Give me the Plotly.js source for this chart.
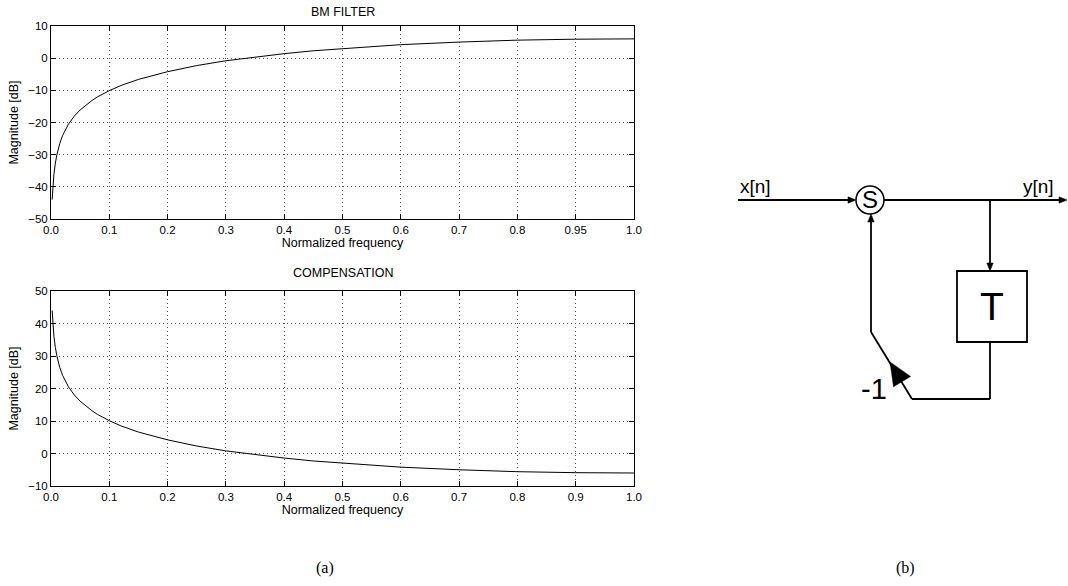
<!DOCTYPE html>
<html><head><meta charset="utf-8">
<script src="https://cdn.plot.ly/plotly-3.0.1.min.js"></script>
<style>html,body{margin:0;padding:0;background:#fff}#chart{width:1068px;height:586px}</style>
</head><body><div id="chart"></div>
<script>
// ---- data ----
const freq = [0.002, 0.003, 0.005, 0.0075, 0.01, 0.015, 0.02, 0.03, 0.04, 0.05, 0.06, 0.07, 0.08, 0.1, 0.12, 0.15, 0.2, 0.25, 0.3, 0.35, 0.4, 0.45, 0.5, 0.6, 0.7, 0.8, 0.9, 1.0];
const bmFilterDb = [-44, -40.5, -36.1, -32.6, -30.1, -26.5, -24.0, -20.5, -18.0, -16.1, -14.5, -13.2, -12.0, -10.1, -8.5, -6.6, -4.2, -2.3, -0.8, 0.4, 1.4, 2.3, 3.0, 4.2, 5.0, 5.6, 5.9, 6.0];
const compensationDb = [44, 40.5, 36.1, 32.6, 30.1, 26.5, 24.0, 20.5, 18.0, 16.1, 14.5, 13.2, 12.0, 10.1, 8.5, 6.6, 4.2, 2.3, 0.8, -0.4, -1.4, -2.3, -3.0, -4.2, -5.0, -5.6, -5.9, -6.0];
const xTickVals = [0, 0.1, 0.2, 0.3, 0.4, 0.5, 0.6, 0.7, 0.8, 0.9, 1.0];
const bmXTickText = ['0.0', '0.1', '0.2', '0.3', '0.4', '0.5', '0.6', '0.7', '0.8', '0.95', '1.0'];
const compXTickText = ['0.0', '0.1', '0.2', '0.3', '0.4', '0.5', '0.6', '0.7', '0.8', '0.9', '1.0'];
const bmYTicks = [-50, -40, -30, -20, -10, 0, 10];
const compYTicks = [-10, 0, 10, 20, 30, 40, 50];
const titles = ['BM FILTER', 'COMPENSATION'];
const xTitle = 'Normalized frequency';
const yTitle = 'Magnitude [dB]';
const panelLabels = ['(a)', '(b)'];
const diagramLabels = {input: 'x[n]', output: 'y[n]', sum: 'S', delay: 'T', gain: '-1'};

// ---- layout helpers ----
const W = 1068, H = 586;
const px = v => v / W;
const py = v => 1 - v / H;
const SANS = 'Liberation Sans, Arial, sans-serif';
const SERIF = 'Liberation Serif, DejaVu Serif, serif';

function xAxis(domain, anchor, ticktext) {
  return {
    domain: domain, anchor: anchor, range: [0, 1],
    tickmode: 'array', tickvals: xTickVals, ticktext: ticktext,
    ticks: 'inside', ticklen: 5, tickcolor: '#000', tickwidth: 1,
    showline: true, linecolor: '#000', linewidth: 1, mirror: 'ticks',
    showgrid: true, gridcolor: '#555', griddash: '1px,3px', gridwidth: 1,
    zeroline: false, tickfont: {family: SANS, size: 11.5, color: '#000'},
    title: {text: xTitle, font: {family: SANS, size: 12.5, color: '#000'}, standoff: 2}
  };
}
function yAxis(domain, anchor, ticks) {
  return {
    domain: domain, anchor: anchor, range: [ticks[0], ticks[ticks.length - 1]],
    tickmode: 'array', tickvals: ticks,
    ticks: 'inside', ticklen: 5, tickcolor: '#000', tickwidth: 1,
    showline: true, linecolor: '#000', linewidth: 1, mirror: 'ticks',
    showgrid: true, gridcolor: '#555', griddash: '1px,3px', gridwidth: 1,
    zeroline: false, tickfont: {family: SANS, size: 11.5, color: '#000'},
    title: {text: yTitle, font: {family: SANS, size: 12.5, color: '#000'}, standoff: 6}
  };
}

const traces = [
  {x: freq, y: bmFilterDb, xaxis: 'x', yaxis: 'y', type: 'scatter', mode: 'lines',
   line: {color: '#000', width: 1}, hoverinfo: 'skip', showlegend: false},
  {x: freq, y: compensationDb, xaxis: 'x2', yaxis: 'y2', type: 'scatter', mode: 'lines',
   line: {color: '#000', width: 1}, hoverinfo: 'skip', showlegend: false}
];

// ---- block diagram (b) ----
const LW = 1.8;
const line = (x0, y0, x1, y1) => ({type: 'line', xref: 'paper', yref: 'paper',
  x0: px(x0), y0: py(y0), x1: px(x1), y1: py(y1), line: {color: '#000', width: LW}});
const poly = pts => ({type: 'path', xref: 'paper', yref: 'paper',
  path: 'M ' + pts.map(p => px(p[0]) + ',' + py(p[1])).join(' L ') + ' Z',
  fillcolor: '#000', line: {color: '#000', width: 0.5}});
// arrowhead with tip (tx,ty) and direction (dx,dy)
function head(tx, ty, dx, dy, len, half) {
  const n = Math.hypot(dx, dy); const ux = dx / n, uy = dy / n;
  const bx = tx - ux * len, by = ty - uy * len;
  return poly([[tx, ty], [bx - uy * half, by + ux * half], [bx + uy * half, by - ux * half]]);
}
const shapes = [
  line(738, 200, 852, 200), head(856, 200, 1, 0, 8, 3.2),
  {type: 'circle', xref: 'paper', yref: 'paper', x0: px(856), x1: px(884), y0: py(214), y1: py(186),
   line: {color: '#000', width: 1.5}},
  line(884, 200, 1062, 200), head(1067, 200, 1, 0, 8, 3.2),
  line(990, 200, 990, 266), head(990, 271, 0, 1, 8, 3.2),
  {type: 'rect', xref: 'paper', yref: 'paper', x0: px(957), x1: px(1027), y0: py(342), y1: py(271),
   line: {color: '#000', width: LW}},
  line(990, 342, 990, 399), line(990, 399, 912, 399), line(912, 399, 871, 332),
  line(871, 332, 871, 219), head(871, 214, 0, -1, 8, 3.2),
  head(890, 362, -41, -67, 23, 10)
];

const ann = (text, x, y, family, size) => ({text: text, x: px(x), y: py(y), xref: 'paper', yref: 'paper',
  showarrow: false, xanchor: 'center', yanchor: 'middle', font: {family: family, size: size, color: '#000'}});
const annotations = [
  ann(titles[0], 342.5, 12, SANS, 12.5),
  ann(titles[1], 342.5, 273, SANS, 12.5),
  ann(panelLabels[0], 325, 568, SERIF, 16),
  ann(panelLabels[1], 905, 568, SERIF, 16),
  ann(diagramLabels.input, 755, 187, SANS, 19),
  ann(diagramLabels.output, 1038, 187, SANS, 19),
  ann(diagramLabels.sum, 870, 200, SANS, 24),
  ann(diagramLabels.delay, 992, 306, SANS, 39),
  ann(diagramLabels.gain, 874, 389, SANS, 29)
];

const layout = {
  width: W, height: H, margin: {l: 0, r: 0, t: 0, b: 0},
  paper_bgcolor: '#fff', plot_bgcolor: '#fff', showlegend: false,
  xaxis: xAxis([px(51), px(634)], 'y', bmXTickText),
  yaxis: yAxis([py(219), py(26)], 'x', bmYTicks),
  xaxis2: xAxis([px(51), px(634)], 'y2', compXTickText),
  yaxis2: yAxis([py(486), py(291)], 'x2', compYTicks),
  shapes: shapes, annotations: annotations
};

Plotly.newPlot('chart', traces, layout, {staticPlot: true, displayModeBar: false});
</script>
</body></html>
